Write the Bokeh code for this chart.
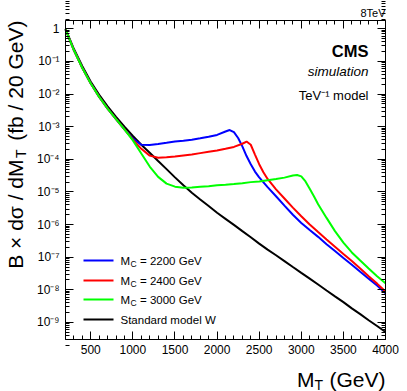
import math
from bokeh.plotting import figure
from bokeh.models import (Range1d, LogAxis, LinearAxis, SingleIntervalTicker, FixedTicker,
                          CustomJSTickFormatter, Label, Arrow)
from bokeh.embed import file_html
from bokeh.resources import INLINE

# ---------------- data ----------------
mass_sm = [200, 300, 400, 500, 600, 700, 800, 900, 1000, 1100, 1200, 1300, 1400, 1500,
           1600, 1700, 1800, 1900, 2000, 2100, 2200, 2300, 2400, 2500, 2600, 2700, 2800,
           2900, 3000, 3100, 3200, 3300, 3400, 3500, 3600, 3700, 3800, 3900, 4000]
xsec_sm = [1.0, 0.24, 0.071, 0.024, 9.5e-3, 4.2e-3, 2.0e-3, 1.0e-3, 5.2e-4, 2.8e-4, 1.6e-4,
           8.9e-5, 5.0e-5, 2.8e-5, 1.6e-5, 9.5e-6, 5.9e-6, 3.7e-6, 2.3e-6, 1.5e-6, 9.8e-7,
           6.3e-7, 4.1e-7, 2.6e-7, 1.7e-7, 1.15e-7, 7.6e-8, 5.0e-8, 3.3e-8, 2.2e-8, 1.45e-8,
           9.5e-9, 6.3e-9, 4.2e-9, 2.7e-9, 1.8e-9, 1.17e-9, 7.8e-10, 5.1e-10]

mass_2200 = [200, 300, 400, 500, 600, 700, 800, 900, 1000, 1100, 1200, 1300, 1400, 1500,
             1600, 1700, 1800, 1900, 2000, 2100, 2150, 2200, 2250, 2300, 2350, 2400, 2450,
             2500, 2600, 2700, 2800, 2900, 3000, 3100, 3200, 3300, 3400, 3500, 3600, 3700,
             3800, 3900, 4000]
xsec_2200 = [0.97, 0.22, 0.063, 0.021, 8.2e-3, 3.6e-3, 1.7e-3, 8.3e-4, 4.3e-4, 2.8e-4,
             2.75e-4, 2.95e-4, 3.2e-4, 3.5e-4, 3.7e-4, 4.0e-4, 4.4e-4, 4.9e-4, 5.6e-4, 7.1e-4,
             7.9e-4, 6.8e-4, 4.5e-4, 2.5e-4, 1.26e-4, 7.1e-5, 4.2e-5, 2.8e-5, 1.4e-5, 7.4e-6,
             3.8e-6, 2.0e-6, 1.12e-6, 6.8e-7, 4.2e-7, 2.5e-7, 1.55e-7, 9.5e-8, 5.9e-8, 3.6e-8,
             2.2e-8, 1.35e-8, 7.9e-9]

mass_2400 = [200, 300, 400, 500, 600, 700, 800, 900, 1000, 1100, 1200, 1300, 1400, 1500,
             1600, 1700, 1800, 1900, 2000, 2100, 2200, 2300, 2350, 2400, 2450, 2500, 2550,
             2600, 2700, 2800, 2900, 3000, 3100, 3200, 3300, 3400, 3500, 3600, 3700, 3800,
             3900, 4000]
xsec_2400 = [0.97, 0.22, 0.063, 0.021, 8.2e-3, 3.6e-3, 1.7e-3, 8.3e-4, 4.0e-4, 2.1e-4,
             1.3e-4, 1.12e-4, 1.15e-4, 1.23e-4, 1.32e-4, 1.41e-4, 1.55e-4, 1.7e-4, 1.86e-4,
             2.1e-4, 2.4e-4, 3.0e-4, 3.5e-4, 2.8e-4, 1.4e-4, 7.1e-5, 4.0e-5, 2.5e-5, 1.2e-5,
             6.3e-6, 3.3e-6, 1.8e-6, 1.0e-6, 5.9e-7, 3.5e-7, 2.1e-7, 1.26e-7, 7.6e-8, 4.5e-8,
             2.6e-8, 1.55e-8, 8.9e-9]

mass_3000 = [200, 300, 400, 500, 600, 700, 800, 900, 1000, 1100, 1200, 1300, 1400, 1500,
             1600, 1700, 1800, 1900, 2000, 2100, 2200, 2300, 2400, 2500, 2600, 2700, 2800,
             2900, 2950, 3000, 3050, 3100, 3150, 3200, 3300, 3400, 3500, 3600, 3700, 3800,
             3900, 4000]
xsec_3000 = [0.97, 0.22, 0.063, 0.021, 8.2e-3, 3.6e-3, 1.7e-3, 8.3e-4, 3.8e-4, 1.5e-4,
             6.0e-5, 2.9e-5, 1.8e-5, 1.45e-5, 1.35e-5, 1.38e-5, 1.45e-5, 1.5e-5, 1.6e-5,
             1.66e-5, 1.74e-5, 1.86e-5, 2.0e-5, 2.1e-5, 2.3e-5, 2.5e-5, 2.75e-5, 3.2e-5,
             3.3e-5, 3.0e-5, 2.1e-5, 1.26e-5, 7.4e-6, 4.2e-6, 1.6e-6, 6.3e-7, 2.8e-7, 1.4e-7,
             7.9e-8, 4.5e-8, 2.6e-8, 1.6e-8]

legend_masses = ["2200", "2400", "3000"]
legend_sm = "Standard model W"

FONT = "Liberation Sans"

# ---------------- geometry ----------------
W, H = 399, 391                     # canvas size
X0, X1 = 200, 4000                  # axis limits
Y0, Y1 = 3e-10, 1.8
FL, FT, FW, FH = 65, 20, 320, 319   # axis box (left, top, width, height) in canvas px

gev_per_px = (X1 - X0) / FW
dec_per_px = (math.log10(Y1) - math.log10(Y0)) / FH
xr = Range1d(X0 - FL * gev_per_px, X1 + (W - FL - FW) * gev_per_px)
yr = Range1d(10 ** (math.log10(Y0) - (H - FT - FH) * dec_per_px),
             10 ** (math.log10(Y1) + FT * dec_per_px))

# the plotting frame covers the whole canvas; the axes are pinned to the axis box
p = figure(width=W, height=H, x_range=xr, y_range=yr, y_axis_type="log",
           output_backend="svg", toolbar_location=None,
           min_border_left=0, min_border_right=0, min_border_top=0, min_border_bottom=0)
if p.title is not None:
    p.title.visible = False
p.xgrid.visible = False
p.ygrid.visible = False
p.outline_line_color = None
p.background_fill_color = "white"
p.border_fill_color = "white"

ymajor = [10.0 ** e for e in range(-9, 1)]
yminor = [m * 10.0 ** e for e in range(-10, 1) for m in range(2, 10)]

fmt = CustomJSTickFormatter(code=r"""
const e = Math.round(Math.log10(tick));
if (e === 0) return "1";
const sup = {"-": "\u207b", "0": "\u2070", "1": "\u00b9", "2": "\u00b2", "3": "\u00b3",
             "4": "\u2074", "5": "\u2075", "6": "\u2076", "7": "\u2077", "8": "\u2078", "9": "\u2079"};
return "10" + String(e).split("").map(c => sup[c]).join("");
""")
blank = CustomJSTickFormatter(code="return '';")


def style_axis(ax):
    ax.axis_line_color = "black"
    ax.axis_line_width = 1
    ax.major_tick_line_color = "black"
    ax.minor_tick_line_color = "black"
    ax.major_tick_in = 8
    ax.major_tick_out = 0
    ax.minor_tick_in = 4
    ax.minor_tick_out = 0
    ax.major_label_text_font = FONT
    ax.major_label_text_color = "black"
    ax.major_label_text_font_size = "12px"


xa = p.xaxis[0]
xa.ticker = SingleIntervalTicker(interval=500, num_minor_ticks=5)
style_axis(xa)
xa.major_label_standoff = 5
xa.fixed_location = Y0
xa.bounds = (X0, X1)

ya = p.yaxis[0]
ya.ticker = FixedTicker(ticks=ymajor, minor_ticks=yminor)
ya.formatter = fmt
style_axis(ya)
ya.major_label_standoff = 6
ya.fixed_location = X0
ya.bounds = (Y0, Y1)

top = LinearAxis(ticker=SingleIntervalTicker(interval=500, num_minor_ticks=5), formatter=blank)
style_axis(top)
top.fixed_location = Y1
top.bounds = (X0, X1)
p.add_layout(top, "above")

right = LogAxis(ticker=FixedTicker(ticks=ymajor, minor_ticks=yminor), formatter=blank)
style_axis(right)
right.fixed_location = X1
right.bounds = (Y0, Y1)
p.add_layout(right, "right")

# ---------------- curves ----------------
p.line(mass_sm, xsec_sm, line_color="black", line_width=2)
p.line(mass_2200, xsec_2200, line_color="#0000ff", line_width=2)
p.line(mass_2400, xsec_2400, line_color="#ff0000", line_width=2)
p.line(mass_3000, xsec_3000, line_color="#00ff00", line_width=2)


# ---------------- texts (canvas px from top-left) ----------------
def lab(px, py, text, size, align="left", style="normal", angle=0.0):
    p.add_layout(Label(x=px, y=H - py, x_units="screen", y_units="screen", text=text,
                       text_font=FONT, text_font_size=size, text_align=align,
                       text_baseline="middle", text_font_style=style, angle=angle,
                       text_color="black"))


lab(385, 12, "8TeV", "11px", align="right")
lab(368, 50, "CMS", "16.5px", align="right", style="bold")
lab(368, 71, "simulation", "13.5px", align="right", style="italic")
lab(368, 95, "TeV\u207b\u00b9 model", "13px", align="right")

# x title  M_T (GeV)
lab(314, 379, "M", "21px", align="right")
lab(314, 384, "T", "14px", align="left")
lab(329, 379, "(GeV)", "21px", align="left")

# y title  B x dsigma / dM_T (fb / 20 GeV)
ang = math.pi / 2
lab(15, 20, "(fb / 20 GeV)", "21px", align="right", angle=ang)
lab(20, 149, "T", "14px", align="right", angle=ang)
lab(15, 159, "B \u00d7 d\u03c3 / dM", "21px", align="right", angle=ang)

# legend
leg_colors = ["#0000ff", "#ff0000", "#00ff00", "black"]
leg_py = [260, 280, 299, 319]
for c, yy in zip(leg_colors, leg_py):
    p.add_layout(Arrow(x_start=83, y_start=H - yy, x_end=113, y_end=H - yy,
                       start_units="screen", end_units="screen", start=None, end=None,
                       line_color=c, line_width=2))
for m, yy in zip(legend_masses, leg_py[:3]):
    lab(120, yy, "M", "11.5px")
    lab(130, yy + 3, "C", "8.5px")
    lab(139.5, yy, "= %s GeV" % m, "11.5px")
lab(120, leg_py[3], legend_sm, "11.5px")

open("out.html", "w").write(file_html(p, INLINE))
